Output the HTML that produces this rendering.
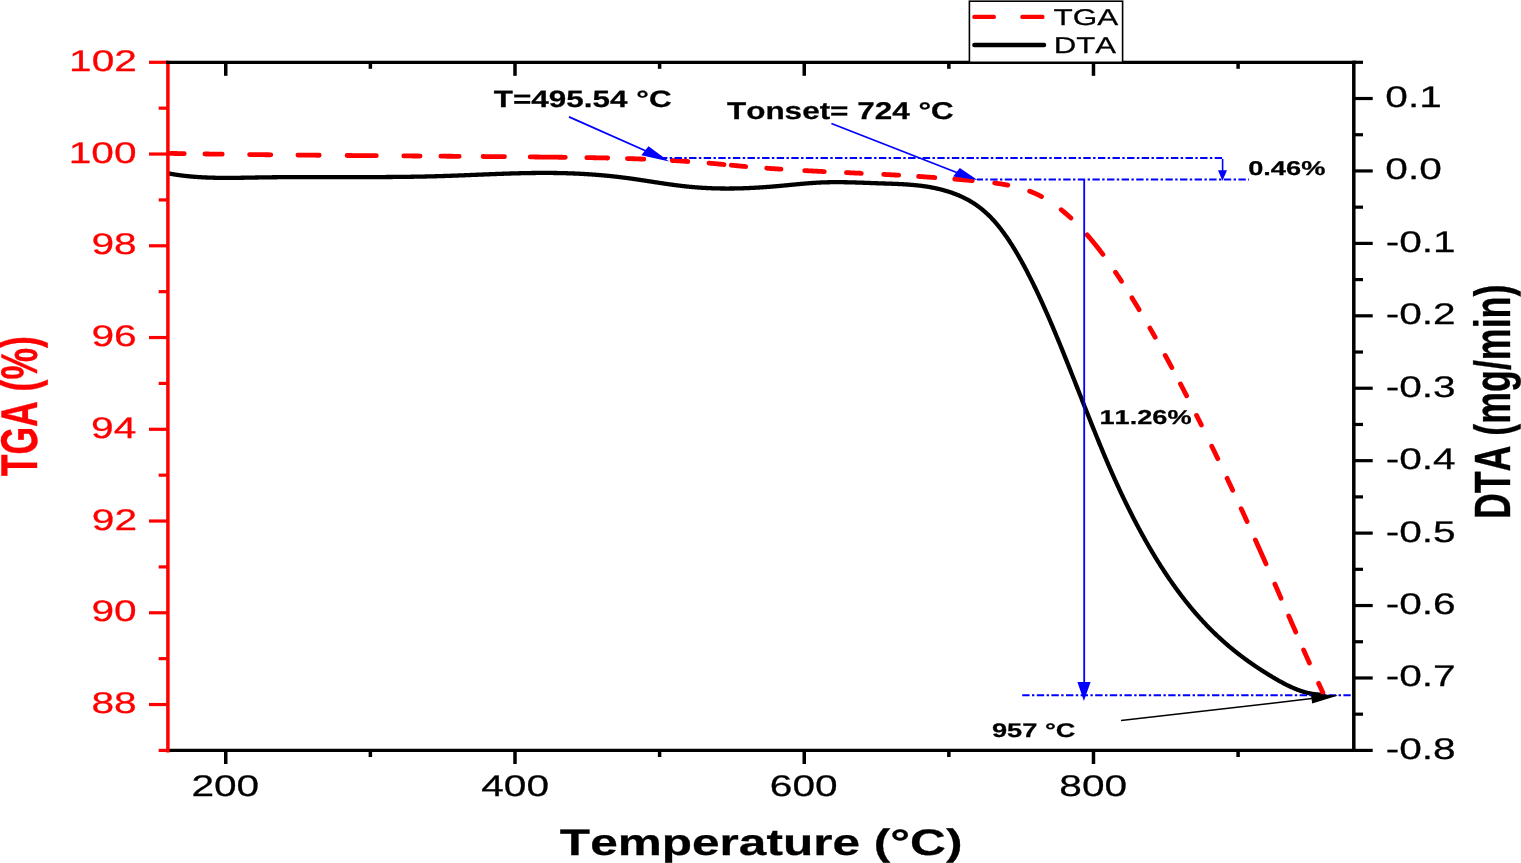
<!DOCTYPE html>
<html><head><meta charset="utf-8"><title>TGA / DTA</title>
<style>html,body{margin:0;padding:0;background:#fff;width:1521px;height:863px;overflow:hidden}svg{display:block}</style>
</head><body>
<svg width="1521" height="863" viewBox="0 0 1521 863" font-family="Liberation Sans, Arial, sans-serif" style="font-kerning:none;text-rendering:geometricPrecision">
<rect width="1521" height="863" fill="#fff"/>
<path d="M168.00 173.35 L168.50 173.45 L169.00 173.54 L169.50 173.63 L170.00 173.72 L170.50 173.81 L171.00 173.89 L171.50 173.98 L172.00 174.06 L172.50 174.15 L173.00 174.23 L173.50 174.31 L174.00 174.39 L174.50 174.47 L175.00 174.55 L175.50 174.63 L176.00 174.70 L176.50 174.78 L177.00 174.85 L177.50 174.92 L178.00 174.99 L178.50 175.06 L179.00 175.13 L179.50 175.20 L180.00 175.27 L180.50 175.33 L181.00 175.40 L181.50 175.46 L182.00 175.52 L182.50 175.59 L183.00 175.65 L183.50 175.71 L184.00 175.77 L184.50 175.82 L185.00 175.88 L185.50 175.94 L186.00 175.99 L186.50 176.05 L187.00 176.10 L187.50 176.15 L188.00 176.20 L188.50 176.25 L189.00 176.30 L189.50 176.35 L190.00 176.40 L190.50 176.44 L191.00 176.49 L191.50 176.53 L192.00 176.58 L192.50 176.62 L193.00 176.66 L193.50 176.70 L194.00 176.74 L194.50 176.78 L195.00 176.82 L195.50 176.86 L196.00 176.90 L196.50 176.93 L197.00 176.97 L197.50 177.00 L198.00 177.04 L198.50 177.07 L199.00 177.10 L199.50 177.13 L200.00 177.16 L200.50 177.19 L201.00 177.22 L201.50 177.25 L202.00 177.28 L202.50 177.31 L203.00 177.33 L203.50 177.36 L204.00 177.38 L204.50 177.41 L205.00 177.43 L205.50 177.45 L206.00 177.48 L206.50 177.50 L207.00 177.52 L207.50 177.54 L208.00 177.56 L208.50 177.58 L209.00 177.60 L209.50 177.61 L210.00 177.63 L210.50 177.65 L211.00 177.66 L211.50 177.68 L212.00 177.69 L212.50 177.71 L213.00 177.72 L213.50 177.73 L214.00 177.74 L214.50 177.76 L215.00 177.77 L215.50 177.78 L216.00 177.79 L216.50 177.80 L217.00 177.81 L217.50 177.82 L218.00 177.82 L218.50 177.83 L219.00 177.84 L219.50 177.84 L220.00 177.85 L220.50 177.86 L221.00 177.86 L221.50 177.87 L222.00 177.87 L222.50 177.87 L223.00 177.88 L223.50 177.88 L224.00 177.88 L224.50 177.89 L225.00 177.89 L225.50 177.89 L226.00 177.89 L226.50 177.89 L227.00 177.89 L227.50 177.89 L228.00 177.89 L228.50 177.89 L229.00 177.89 L229.50 177.89 L230.00 177.88 L230.50 177.88 L231.00 177.88 L231.50 177.88 L232.00 177.87 L232.50 177.87 L233.00 177.87 L233.50 177.86 L234.00 177.86 L234.50 177.85 L235.00 177.85 L235.50 177.84 L236.00 177.84 L236.50 177.83 L237.00 177.83 L237.50 177.82 L238.00 177.82 L238.50 177.81 L239.00 177.80 L239.50 177.80 L240.00 177.79 L240.50 177.78 L241.00 177.77 L241.50 177.77 L242.00 177.76 L242.50 177.75 L243.00 177.74 L243.50 177.74 L244.00 177.73 L244.50 177.72 L245.00 177.71 L245.50 177.70 L246.00 177.69 L246.50 177.69 L247.00 177.68 L247.50 177.67 L248.00 177.66 L248.50 177.65 L249.00 177.64 L249.50 177.63 L250.00 177.62 L250.50 177.61 L251.00 177.61 L251.50 177.60 L252.00 177.59 L252.50 177.58 L253.00 177.57 L253.50 177.56 L254.00 177.55 L254.50 177.54 L255.00 177.53 L255.50 177.52 L256.00 177.51 L256.50 177.51 L257.00 177.50 L257.50 177.49 L258.00 177.48 L258.50 177.47 L259.00 177.46 L259.50 177.45 L260.00 177.45 L260.50 177.44 L261.00 177.43 L261.50 177.42 L262.00 177.41 L262.50 177.41 L263.00 177.40 L263.50 177.39 L264.00 177.38 L264.50 177.38 L265.00 177.37 L265.50 177.36 L266.00 177.36 L266.50 177.35 L267.00 177.34 L267.50 177.33 L268.00 177.33 L268.50 177.32 L269.00 177.32 L269.50 177.31 L270.00 177.30 L270.50 177.30 L271.00 177.29 L271.50 177.29 L272.00 177.28 L272.50 177.27 L273.00 177.27 L273.50 177.26 L274.00 177.26 L274.50 177.25 L275.00 177.25 L275.50 177.24 L276.00 177.24 L276.50 177.23 L277.00 177.23 L277.50 177.22 L278.00 177.22 L278.50 177.21 L279.00 177.21 L279.50 177.20 L280.00 177.20 L280.50 177.20 L281.00 177.19 L281.50 177.19 L282.00 177.18 L282.50 177.18 L283.00 177.18 L283.50 177.17 L284.00 177.17 L284.50 177.16 L285.00 177.16 L285.50 177.16 L286.00 177.15 L286.50 177.15 L287.00 177.15 L287.50 177.14 L288.00 177.14 L288.50 177.14 L289.00 177.14 L289.50 177.13 L290.00 177.13 L290.50 177.13 L291.00 177.13 L291.50 177.12 L292.00 177.12 L292.50 177.12 L293.00 177.12 L293.50 177.11 L294.00 177.11 L294.50 177.11 L295.00 177.11 L295.50 177.10 L296.00 177.10 L296.50 177.10 L297.00 177.10 L297.50 177.10 L298.00 177.10 L298.50 177.09 L299.00 177.09 L299.50 177.09 L300.00 177.09 L300.50 177.09 L301.00 177.09 L301.50 177.08 L302.00 177.08 L302.50 177.08 L303.00 177.08 L303.50 177.08 L304.00 177.08 L304.50 177.08 L305.00 177.08 L305.50 177.08 L306.00 177.07 L306.50 177.07 L307.00 177.07 L307.50 177.07 L308.00 177.07 L308.50 177.07 L309.00 177.07 L309.50 177.07 L310.00 177.07 L310.50 177.07 L311.00 177.07 L311.50 177.07 L312.00 177.07 L312.50 177.07 L313.00 177.07 L313.50 177.07 L314.00 177.07 L314.50 177.07 L315.00 177.07 L315.50 177.07 L316.00 177.07 L316.50 177.07 L317.00 177.07 L317.50 177.07 L318.00 177.07 L318.50 177.07 L319.00 177.07 L319.50 177.07 L320.00 177.07 L320.50 177.07 L321.00 177.07 L321.50 177.07 L322.00 177.07 L322.50 177.07 L323.00 177.07 L323.50 177.07 L324.00 177.07 L324.50 177.07 L325.00 177.07 L325.50 177.07 L326.00 177.07 L326.50 177.07 L327.00 177.07 L327.50 177.07 L328.00 177.07 L328.50 177.07 L329.00 177.07 L329.50 177.07 L330.00 177.07 L330.50 177.07 L331.00 177.07 L331.50 177.07 L332.00 177.07 L332.50 177.08 L333.00 177.08 L333.50 177.08 L334.00 177.08 L334.50 177.08 L335.00 177.08 L335.50 177.08 L336.00 177.08 L336.50 177.08 L337.00 177.08 L337.50 177.08 L338.00 177.08 L338.50 177.08 L339.00 177.08 L339.50 177.08 L340.00 177.08 L340.50 177.08 L341.00 177.09 L341.50 177.09 L342.00 177.09 L342.50 177.09 L343.00 177.09 L343.50 177.09 L344.00 177.09 L344.50 177.09 L345.00 177.09 L345.50 177.09 L346.00 177.09 L346.50 177.09 L347.00 177.09 L347.50 177.09 L348.00 177.09 L348.50 177.09 L349.00 177.09 L349.50 177.09 L350.00 177.09 L350.50 177.09 L351.00 177.09 L351.50 177.09 L352.00 177.09 L352.50 177.09 L353.00 177.10 L353.50 177.10 L354.00 177.10 L354.50 177.10 L355.00 177.10 L355.50 177.10 L356.00 177.10 L356.50 177.10 L357.00 177.10 L357.50 177.10 L358.00 177.10 L358.50 177.10 L359.00 177.10 L359.50 177.10 L360.00 177.10 L360.50 177.10 L361.00 177.10 L361.50 177.09 L362.00 177.09 L362.50 177.09 L363.00 177.09 L363.50 177.09 L364.00 177.09 L364.50 177.09 L365.00 177.09 L365.50 177.09 L366.00 177.09 L366.50 177.09 L367.00 177.09 L367.50 177.09 L368.00 177.09 L368.50 177.09 L369.00 177.09 L369.50 177.09 L370.00 177.08 L370.50 177.08 L371.00 177.08 L371.50 177.08 L372.00 177.08 L372.50 177.08 L373.00 177.08 L373.50 177.08 L374.00 177.07 L374.50 177.07 L375.00 177.07 L375.50 177.07 L376.00 177.07 L376.50 177.07 L377.00 177.07 L377.50 177.06 L378.00 177.06 L378.50 177.06 L379.00 177.06 L379.50 177.06 L380.00 177.05 L380.50 177.05 L381.00 177.05 L381.50 177.05 L382.00 177.04 L382.50 177.04 L383.00 177.04 L383.50 177.04 L384.00 177.03 L384.50 177.03 L385.00 177.03 L385.50 177.03 L386.00 177.02 L386.50 177.02 L387.00 177.02 L387.50 177.01 L388.00 177.01 L388.50 177.01 L389.00 177.00 L389.50 177.00 L390.00 177.00 L390.50 176.99 L391.00 176.99 L391.50 176.99 L392.00 176.98 L392.50 176.98 L393.00 176.97 L393.50 176.97 L394.00 176.97 L394.50 176.96 L395.00 176.96 L395.50 176.95 L396.00 176.95 L396.50 176.94 L397.00 176.94 L397.50 176.94 L398.00 176.93 L398.50 176.93 L399.00 176.92 L399.50 176.92 L400.00 176.91 L400.50 176.91 L401.00 176.90 L401.50 176.89 L402.00 176.89 L402.50 176.88 L403.00 176.88 L403.50 176.87 L404.00 176.87 L404.50 176.86 L405.00 176.85 L405.50 176.85 L406.00 176.84 L406.50 176.83 L407.00 176.83 L407.50 176.82 L408.00 176.81 L408.50 176.81 L409.00 176.80 L409.50 176.79 L410.00 176.79 L410.50 176.78 L411.00 176.77 L411.50 176.76 L412.00 176.76 L412.50 176.75 L413.00 176.74 L413.50 176.73 L414.00 176.72 L414.50 176.72 L415.00 176.71 L415.50 176.70 L416.00 176.69 L416.50 176.68 L417.00 176.67 L417.50 176.67 L418.00 176.66 L418.50 176.65 L419.00 176.64 L419.50 176.63 L420.00 176.62 L420.50 176.61 L421.00 176.60 L421.50 176.59 L422.00 176.58 L422.50 176.57 L423.00 176.56 L423.50 176.55 L424.00 176.54 L424.50 176.53 L425.00 176.52 L425.50 176.51 L426.00 176.50 L426.50 176.48 L427.00 176.47 L427.50 176.46 L428.00 176.45 L428.50 176.44 L429.00 176.43 L429.50 176.42 L430.00 176.40 L430.50 176.39 L431.00 176.38 L431.50 176.37 L432.00 176.35 L432.50 176.34 L433.00 176.33 L433.50 176.31 L434.00 176.30 L434.50 176.29 L435.00 176.27 L435.50 176.26 L436.00 176.25 L436.50 176.23 L437.00 176.22 L437.50 176.21 L438.00 176.19 L438.50 176.18 L439.00 176.16 L439.50 176.15 L440.00 176.13 L440.50 176.12 L441.00 176.10 L441.50 176.09 L442.00 176.07 L442.50 176.06 L443.00 176.04 L443.50 176.02 L444.00 176.01 L444.50 175.99 L445.00 175.97 L445.50 175.96 L446.00 175.94 L446.50 175.93 L447.00 175.91 L447.50 175.89 L448.00 175.87 L448.50 175.86 L449.00 175.84 L449.50 175.82 L450.00 175.80 L450.50 175.79 L451.00 175.77 L451.50 175.75 L452.00 175.73 L452.50 175.72 L453.00 175.70 L453.50 175.68 L454.00 175.66 L454.50 175.64 L455.00 175.62 L455.50 175.60 L456.00 175.59 L456.50 175.57 L457.00 175.55 L457.50 175.53 L458.00 175.51 L458.50 175.49 L459.00 175.47 L459.50 175.45 L460.00 175.43 L460.50 175.41 L461.00 175.39 L461.50 175.37 L462.00 175.36 L462.50 175.34 L463.00 175.32 L463.50 175.30 L464.00 175.28 L464.50 175.26 L465.00 175.24 L465.50 175.22 L466.00 175.20 L466.50 175.18 L467.00 175.16 L467.50 175.14 L468.00 175.12 L468.50 175.10 L469.00 175.08 L469.50 175.06 L470.00 175.04 L470.50 175.02 L471.00 174.99 L471.50 174.97 L472.00 174.95 L472.50 174.93 L473.00 174.91 L473.50 174.89 L474.00 174.87 L474.50 174.85 L475.00 174.83 L475.50 174.81 L476.00 174.79 L476.50 174.77 L477.00 174.75 L477.50 174.73 L478.00 174.71 L478.50 174.69 L479.00 174.67 L479.50 174.65 L480.00 174.63 L480.50 174.61 L481.00 174.59 L481.50 174.57 L482.00 174.55 L482.50 174.53 L483.00 174.51 L483.50 174.49 L484.00 174.47 L484.50 174.45 L485.00 174.43 L485.50 174.41 L486.00 174.39 L486.50 174.37 L487.00 174.35 L487.50 174.33 L488.00 174.31 L488.50 174.29 L489.00 174.27 L489.50 174.25 L490.00 174.23 L490.50 174.21 L491.00 174.19 L491.50 174.17 L492.00 174.15 L492.50 174.13 L493.00 174.11 L493.50 174.09 L494.00 174.07 L494.50 174.06 L495.00 174.04 L495.50 174.02 L496.00 174.00 L496.50 173.98 L497.00 173.96 L497.50 173.94 L498.00 173.93 L498.50 173.91 L499.00 173.89 L499.50 173.87 L500.00 173.85 L500.50 173.84 L501.00 173.82 L501.50 173.80 L502.00 173.78 L502.50 173.77 L503.00 173.75 L503.50 173.73 L504.00 173.71 L504.50 173.70 L505.00 173.68 L505.50 173.66 L506.00 173.65 L506.50 173.63 L507.00 173.61 L507.50 173.60 L508.00 173.58 L508.50 173.57 L509.00 173.55 L509.50 173.54 L510.00 173.52 L510.50 173.50 L511.00 173.49 L511.50 173.47 L512.00 173.46 L512.50 173.45 L513.00 173.43 L513.50 173.42 L514.00 173.40 L514.50 173.39 L515.00 173.37 L515.50 173.36 L516.00 173.35 L516.50 173.33 L517.00 173.32 L517.50 173.31 L518.00 173.29 L518.50 173.28 L519.00 173.27 L519.50 173.26 L520.00 173.25 L520.50 173.23 L521.00 173.22 L521.50 173.21 L522.00 173.20 L522.50 173.19 L523.00 173.18 L523.50 173.17 L524.00 173.16 L524.50 173.15 L525.00 173.14 L525.50 173.13 L526.00 173.12 L526.50 173.11 L527.00 173.10 L527.50 173.09 L528.00 173.08 L528.50 173.07 L529.00 173.06 L529.50 173.05 L530.00 173.05 L530.50 173.04 L531.00 173.03 L531.50 173.02 L532.00 173.02 L532.50 173.01 L533.00 173.00 L533.50 173.00 L534.00 172.99 L534.50 172.99 L535.00 172.98 L535.50 172.98 L536.00 172.97 L536.50 172.97 L537.00 172.96 L537.50 172.96 L538.00 172.95 L538.50 172.95 L539.00 172.95 L539.50 172.94 L540.00 172.94 L540.50 172.94 L541.00 172.94 L541.50 172.93 L542.00 172.93 L542.50 172.93 L543.00 172.93 L543.50 172.93 L544.00 172.93 L544.50 172.93 L545.00 172.93 L545.50 172.93 L546.00 172.93 L546.50 172.93 L547.00 172.93 L547.50 172.93 L548.00 172.93 L548.50 172.94 L549.00 172.94 L549.50 172.94 L550.00 172.94 L550.50 172.95 L551.00 172.95 L551.50 172.96 L552.00 172.96 L552.50 172.96 L553.00 172.97 L553.50 172.98 L554.00 172.98 L554.50 172.99 L555.00 172.99 L555.50 173.00 L556.00 173.01 L556.50 173.01 L557.00 173.02 L557.50 173.03 L558.00 173.04 L558.50 173.05 L559.00 173.06 L559.50 173.07 L560.00 173.08 L560.50 173.09 L561.00 173.10 L561.50 173.11 L562.00 173.12 L562.50 173.13 L563.00 173.14 L563.50 173.15 L564.00 173.17 L564.50 173.18 L565.00 173.19 L565.50 173.21 L566.00 173.22 L566.50 173.24 L567.00 173.25 L567.50 173.27 L568.00 173.28 L568.50 173.30 L569.00 173.32 L569.50 173.33 L570.00 173.35 L570.50 173.37 L571.00 173.38 L571.50 173.40 L572.00 173.42 L572.50 173.44 L573.00 173.46 L573.50 173.48 L574.00 173.50 L574.50 173.52 L575.00 173.54 L575.50 173.56 L576.00 173.59 L576.50 173.61 L577.00 173.63 L577.50 173.65 L578.00 173.68 L578.50 173.70 L579.00 173.72 L579.50 173.75 L580.00 173.77 L580.50 173.80 L581.00 173.83 L581.50 173.85 L582.00 173.88 L582.50 173.91 L583.00 173.93 L583.50 173.96 L584.00 173.99 L584.50 174.02 L585.00 174.05 L585.50 174.08 L586.00 174.11 L586.50 174.14 L587.00 174.17 L587.50 174.20 L588.00 174.23 L588.50 174.26 L589.00 174.29 L589.50 174.33 L590.00 174.36 L590.50 174.39 L591.00 174.43 L591.50 174.46 L592.00 174.49 L592.50 174.53 L593.00 174.57 L593.50 174.60 L594.00 174.64 L594.50 174.68 L595.00 174.71 L595.50 174.75 L596.00 174.79 L596.50 174.83 L597.00 174.87 L597.50 174.91 L598.00 174.95 L598.50 174.99 L599.00 175.03 L599.50 175.07 L600.00 175.11 L600.50 175.15 L601.00 175.19 L601.50 175.24 L602.00 175.28 L602.50 175.32 L603.00 175.37 L603.50 175.41 L604.00 175.46 L604.50 175.50 L605.00 175.55 L605.50 175.60 L606.00 175.64 L606.50 175.69 L607.00 175.74 L607.50 175.79 L608.00 175.83 L608.50 175.88 L609.00 175.93 L609.50 175.98 L610.00 176.03 L610.50 176.08 L611.00 176.14 L611.50 176.19 L612.00 176.24 L612.50 176.29 L613.00 176.35 L613.50 176.40 L614.00 176.45 L614.50 176.51 L615.00 176.56 L615.50 176.62 L616.00 176.68 L616.50 176.73 L617.00 176.79 L617.50 176.85 L618.00 176.90 L618.50 176.96 L619.00 177.02 L619.50 177.08 L620.00 177.14 L620.50 177.20 L621.00 177.26 L621.50 177.32 L622.00 177.38 L622.50 177.45 L623.00 177.51 L623.50 177.57 L624.00 177.64 L624.50 177.70 L625.00 177.76 L625.50 177.83 L626.00 177.89 L626.50 177.96 L627.00 178.03 L627.50 178.09 L628.00 178.16 L628.50 178.23 L629.00 178.30 L629.50 178.37 L630.00 178.43 L630.50 178.50 L631.00 178.57 L631.50 178.64 L632.00 178.71 L632.50 178.78 L633.00 178.86 L633.50 178.93 L634.00 179.00 L634.50 179.07 L635.00 179.14 L635.50 179.22 L636.00 179.29 L636.50 179.36 L637.00 179.44 L637.50 179.51 L638.00 179.58 L638.50 179.66 L639.00 179.73 L639.50 179.81 L640.00 179.88 L640.50 179.96 L641.00 180.03 L641.50 180.11 L642.00 180.18 L642.50 180.26 L643.00 180.34 L643.50 180.41 L644.00 180.49 L644.50 180.56 L645.00 180.64 L645.50 180.72 L646.00 180.79 L646.50 180.87 L647.00 180.95 L647.50 181.02 L648.00 181.10 L648.50 181.18 L649.00 181.26 L649.50 181.33 L650.00 181.41 L650.50 181.49 L651.00 181.56 L651.50 181.64 L652.00 181.72 L652.50 181.80 L653.00 181.87 L653.50 181.95 L654.00 182.03 L654.50 182.10 L655.00 182.18 L655.50 182.26 L656.00 182.33 L656.50 182.41 L657.00 182.49 L657.50 182.56 L658.00 182.64 L658.50 182.72 L659.00 182.79 L659.50 182.87 L660.00 182.94 L660.50 183.02 L661.00 183.09 L661.50 183.17 L662.00 183.24 L662.50 183.32 L663.00 183.39 L663.50 183.47 L664.00 183.54 L664.50 183.61 L665.00 183.69 L665.50 183.76 L666.00 183.83 L666.50 183.91 L667.00 183.98 L667.50 184.05 L668.00 184.12 L668.50 184.19 L669.00 184.27 L669.50 184.34 L670.00 184.41 L670.50 184.48 L671.00 184.55 L671.50 184.61 L672.00 184.68 L672.50 184.75 L673.00 184.82 L673.50 184.89 L674.00 184.96 L674.50 185.02 L675.00 185.09 L675.50 185.15 L676.00 185.22 L676.50 185.28 L677.00 185.35 L677.50 185.41 L678.00 185.48 L678.50 185.54 L679.00 185.60 L679.50 185.66 L680.00 185.72 L680.50 185.79 L681.00 185.85 L681.50 185.90 L682.00 185.96 L682.50 186.02 L683.00 186.08 L683.50 186.14 L684.00 186.19 L684.50 186.25 L685.00 186.31 L685.50 186.36 L686.00 186.41 L686.50 186.47 L687.00 186.52 L687.50 186.57 L688.00 186.62 L688.50 186.67 L689.00 186.72 L689.50 186.77 L690.00 186.82 L690.50 186.87 L691.00 186.92 L691.50 186.96 L692.00 187.01 L692.50 187.05 L693.00 187.10 L693.50 187.14 L694.00 187.18 L694.50 187.23 L695.00 187.27 L695.50 187.31 L696.00 187.35 L696.50 187.39 L697.00 187.43 L697.50 187.46 L698.00 187.50 L698.50 187.54 L699.00 187.57 L699.50 187.61 L700.00 187.64 L700.50 187.67 L701.00 187.71 L701.50 187.74 L702.00 187.77 L702.50 187.80 L703.00 187.83 L703.50 187.86 L704.00 187.89 L704.50 187.92 L705.00 187.95 L705.50 187.97 L706.00 188.00 L706.50 188.02 L707.00 188.05 L707.50 188.07 L708.00 188.10 L708.50 188.12 L709.00 188.14 L709.50 188.16 L710.00 188.18 L710.50 188.20 L711.00 188.22 L711.50 188.24 L712.00 188.26 L712.50 188.28 L713.00 188.30 L713.50 188.31 L714.00 188.33 L714.50 188.34 L715.00 188.36 L715.50 188.37 L716.00 188.39 L716.50 188.40 L717.00 188.41 L717.50 188.42 L718.00 188.43 L718.50 188.44 L719.00 188.45 L719.50 188.46 L720.00 188.47 L720.50 188.48 L721.00 188.49 L721.50 188.49 L722.00 188.50 L722.50 188.51 L723.00 188.51 L723.50 188.51 L724.00 188.52 L724.50 188.52 L725.00 188.52 L725.50 188.53 L726.00 188.53 L726.50 188.53 L727.00 188.53 L727.50 188.53 L728.00 188.53 L728.50 188.53 L729.00 188.53 L729.50 188.52 L730.00 188.52 L730.50 188.52 L731.00 188.51 L731.50 188.51 L732.00 188.50 L732.50 188.50 L733.00 188.49 L733.50 188.49 L734.00 188.48 L734.50 188.47 L735.00 188.46 L735.50 188.46 L736.00 188.45 L736.50 188.44 L737.00 188.43 L737.50 188.42 L738.00 188.40 L738.50 188.39 L739.00 188.38 L739.50 188.37 L740.00 188.35 L740.50 188.34 L741.00 188.33 L741.50 188.31 L742.00 188.30 L742.50 188.28 L743.00 188.26 L743.50 188.25 L744.00 188.23 L744.50 188.21 L745.00 188.20 L745.50 188.18 L746.00 188.16 L746.50 188.14 L747.00 188.12 L747.50 188.10 L748.00 188.08 L748.50 188.06 L749.00 188.03 L749.50 188.01 L750.00 187.99 L750.50 187.97 L751.00 187.94 L751.50 187.92 L752.00 187.89 L752.50 187.87 L753.00 187.84 L753.50 187.82 L754.00 187.79 L754.50 187.77 L755.00 187.74 L755.50 187.71 L756.00 187.68 L756.50 187.65 L757.00 187.63 L757.50 187.60 L758.00 187.57 L758.50 187.54 L759.00 187.51 L759.50 187.48 L760.00 187.45 L760.50 187.41 L761.00 187.38 L761.50 187.35 L762.00 187.32 L762.50 187.28 L763.00 187.25 L763.50 187.22 L764.00 187.18 L764.50 187.15 L765.00 187.11 L765.50 187.08 L766.00 187.04 L766.50 187.01 L767.00 186.97 L767.50 186.93 L768.00 186.89 L768.50 186.86 L769.00 186.82 L769.50 186.78 L770.00 186.74 L770.50 186.70 L771.00 186.66 L771.50 186.62 L772.00 186.58 L772.50 186.54 L773.00 186.50 L773.50 186.46 L774.00 186.42 L774.50 186.38 L775.00 186.34 L775.50 186.30 L776.00 186.25 L776.50 186.21 L777.00 186.17 L777.50 186.12 L778.00 186.08 L778.50 186.03 L779.00 185.99 L779.50 185.95 L780.00 185.90 L780.50 185.85 L781.00 185.81 L781.50 185.76 L782.00 185.72 L782.50 185.67 L783.00 185.62 L783.50 185.58 L784.00 185.53 L784.50 185.48 L785.00 185.43 L785.50 185.39 L786.00 185.34 L786.50 185.29 L787.00 185.24 L787.50 185.19 L788.00 185.15 L788.50 185.10 L789.00 185.05 L789.50 185.00 L790.00 184.95 L790.50 184.90 L791.00 184.86 L791.50 184.81 L792.00 184.76 L792.50 184.71 L793.00 184.66 L793.50 184.61 L794.00 184.57 L794.50 184.52 L795.00 184.47 L795.50 184.42 L796.00 184.37 L796.50 184.33 L797.00 184.28 L797.50 184.23 L798.00 184.19 L798.50 184.14 L799.00 184.09 L799.50 184.05 L800.00 184.00 L800.50 183.95 L801.00 183.91 L801.50 183.86 L802.00 183.82 L802.50 183.77 L803.00 183.73 L803.50 183.69 L804.00 183.64 L804.50 183.60 L805.00 183.56 L805.50 183.52 L806.00 183.47 L806.50 183.43 L807.00 183.39 L807.50 183.35 L808.00 183.31 L808.50 183.27 L809.00 183.23 L809.50 183.19 L810.00 183.16 L810.50 183.12 L811.00 183.08 L811.50 183.05 L812.00 183.01 L812.50 182.98 L813.00 182.94 L813.50 182.91 L814.00 182.87 L814.50 182.84 L815.00 182.81 L815.50 182.78 L816.00 182.75 L816.50 182.72 L817.00 182.69 L817.50 182.66 L818.00 182.64 L818.50 182.61 L819.00 182.58 L819.50 182.56 L820.00 182.54 L820.50 182.51 L821.00 182.49 L821.50 182.47 L822.00 182.45 L822.50 182.43 L823.00 182.41 L823.50 182.39 L824.00 182.37 L824.50 182.36 L825.00 182.34 L825.50 182.33 L826.00 182.31 L826.50 182.30 L827.00 182.28 L827.50 182.27 L828.00 182.26 L828.50 182.25 L829.00 182.24 L829.50 182.23 L830.00 182.22 L830.50 182.21 L831.00 182.21 L831.50 182.20 L832.00 182.19 L832.50 182.19 L833.00 182.18 L833.50 182.18 L834.00 182.18 L834.50 182.17 L835.00 182.17 L835.50 182.17 L836.00 182.17 L836.50 182.17 L837.00 182.17 L837.50 182.17 L838.00 182.17 L838.50 182.17 L839.00 182.17 L839.50 182.17 L840.00 182.18 L840.50 182.18 L841.00 182.19 L841.50 182.19 L842.00 182.20 L842.50 182.20 L843.00 182.21 L843.50 182.21 L844.00 182.22 L844.50 182.23 L845.00 182.24 L845.50 182.24 L846.00 182.25 L846.50 182.26 L847.00 182.27 L847.50 182.28 L848.00 182.29 L848.50 182.30 L849.00 182.31 L849.50 182.33 L850.00 182.34 L850.50 182.35 L851.00 182.36 L851.50 182.37 L852.00 182.39 L852.50 182.40 L853.00 182.41 L853.50 182.43 L854.00 182.44 L854.50 182.46 L855.00 182.47 L855.50 182.49 L856.00 182.50 L856.50 182.52 L857.00 182.53 L857.50 182.55 L858.00 182.56 L858.50 182.58 L859.00 182.60 L859.50 182.61 L860.00 182.63 L860.50 182.65 L861.00 182.67 L861.50 182.68 L862.00 182.70 L862.50 182.72 L863.00 182.74 L863.50 182.75 L864.00 182.77 L864.50 182.79 L865.00 182.81 L865.50 182.83 L866.00 182.84 L866.50 182.86 L867.00 182.88 L867.50 182.90 L868.00 182.92 L868.50 182.94 L869.00 182.96 L869.50 182.97 L870.00 182.99 L870.50 183.01 L871.00 183.03 L871.50 183.05 L872.00 183.07 L872.50 183.09 L873.00 183.10 L873.50 183.12 L874.00 183.14 L874.50 183.16 L875.00 183.18 L875.50 183.20 L876.00 183.21 L876.50 183.23 L877.00 183.25 L877.50 183.27 L878.00 183.29 L878.50 183.30 L879.00 183.32 L879.50 183.34 L880.00 183.36 L880.50 183.37 L881.00 183.39 L881.50 183.41 L882.00 183.42 L882.50 183.44 L883.00 183.45 L883.50 183.47 L884.00 183.49 L884.50 183.50 L885.00 183.52 L885.50 183.54 L886.00 183.55 L886.50 183.57 L887.00 183.58 L887.50 183.60 L888.00 183.62 L888.50 183.63 L889.00 183.65 L889.50 183.67 L890.00 183.69 L890.50 183.70 L891.00 183.72 L891.50 183.74 L892.00 183.76 L892.50 183.77 L893.00 183.79 L893.50 183.81 L894.00 183.83 L894.50 183.85 L895.00 183.87 L895.50 183.89 L896.00 183.91 L896.50 183.93 L897.00 183.95 L897.50 183.97 L898.00 184.00 L898.50 184.02 L899.00 184.04 L899.50 184.06 L900.00 184.09 L900.50 184.11 L901.00 184.14 L901.50 184.16 L902.00 184.19 L902.50 184.22 L903.00 184.25 L903.50 184.27 L904.00 184.30 L904.50 184.33 L905.00 184.36 L905.50 184.39 L906.00 184.42 L906.50 184.46 L907.00 184.49 L907.50 184.52 L908.00 184.56 L908.50 184.60 L909.00 184.63 L909.50 184.67 L910.00 184.71 L910.50 184.75 L911.00 184.79 L911.50 184.83 L912.00 184.87 L912.50 184.91 L913.00 184.96 L913.50 185.00 L914.00 185.05 L914.50 185.09 L915.00 185.14 L915.50 185.19 L916.00 185.24 L916.50 185.29 L917.00 185.34 L917.50 185.40 L918.00 185.45 L918.50 185.51 L919.00 185.56 L919.50 185.62 L920.00 185.68 L920.50 185.74 L921.00 185.80 L921.50 185.87 L922.00 185.93 L922.50 186.00 L923.00 186.06 L923.50 186.13 L924.00 186.20 L924.50 186.27 L925.00 186.35 L925.50 186.42 L926.00 186.49 L926.50 186.57 L927.00 186.65 L927.50 186.73 L928.00 186.81 L928.50 186.89 L929.00 186.98 L929.50 187.06 L930.00 187.15 L930.50 187.24 L931.00 187.33 L931.50 187.42 L932.00 187.52 L932.50 187.61 L933.00 187.71 L933.50 187.81 L934.00 187.91 L934.50 188.01 L935.00 188.12 L935.50 188.22 L936.00 188.33 L936.50 188.44 L937.00 188.55 L937.50 188.67 L938.00 188.78 L938.50 188.90 L939.00 189.02 L939.50 189.14 L940.00 189.26 L940.50 189.38 L941.00 189.51 L941.50 189.64 L942.00 189.77 L942.50 189.90 L943.00 190.04 L943.50 190.17 L944.00 190.31 L944.50 190.45 L945.00 190.60 L945.50 190.74 L946.00 190.89 L946.50 191.04 L947.00 191.19 L947.50 191.34 L948.00 191.50 L948.50 191.66 L949.00 191.82 L949.50 191.98 L950.00 192.15 L950.50 192.31 L951.00 192.48 L951.50 192.65 L952.00 192.83 L952.50 193.01 L953.00 193.18 L953.50 193.37 L954.00 193.55 L954.50 193.74 L955.00 193.93 L955.50 194.12 L956.00 194.31 L956.50 194.51 L957.00 194.71 L957.50 194.91 L958.00 195.11 L958.50 195.32 L959.00 195.53 L959.50 195.75 L960.00 195.96 L960.50 196.18 L961.00 196.41 L961.50 196.63 L962.00 196.86 L962.50 197.09 L963.00 197.33 L963.50 197.57 L964.00 197.81 L964.50 198.06 L965.00 198.31 L965.50 198.56 L966.00 198.82 L966.50 199.08 L967.00 199.35 L967.50 199.62 L968.00 199.89 L968.50 200.16 L969.00 200.45 L969.50 200.73 L970.00 201.02 L970.50 201.31 L971.00 201.61 L971.50 201.91 L972.00 202.22 L972.50 202.53 L973.00 202.84 L973.50 203.16 L974.00 203.49 L974.50 203.82 L975.00 204.15 L975.50 204.49 L976.00 204.83 L976.50 205.18 L977.00 205.53 L977.50 205.89 L978.00 206.25 L978.50 206.62 L979.00 206.99 L979.50 207.37 L980.00 207.75 L980.50 208.14 L981.00 208.53 L981.50 208.93 L982.00 209.34 L982.50 209.75 L983.00 210.16 L983.50 210.58 L984.00 211.01 L984.50 211.44 L985.00 211.88 L985.50 212.33 L986.00 212.78 L986.50 213.23 L987.00 213.70 L987.50 214.16 L988.00 214.64 L988.50 215.12 L989.00 215.60 L989.50 216.10 L990.00 216.60 L990.50 217.10 L991.00 217.61 L991.50 218.13 L992.00 218.66 L992.50 219.19 L993.00 219.73 L993.50 220.27 L994.00 220.82 L994.50 221.38 L995.00 221.95 L995.50 222.52 L996.00 223.10 L996.50 223.69 L997.00 224.28 L997.50 224.88 L998.00 225.49 L998.50 226.10 L999.00 226.72 L999.50 227.35 L1000.00 227.98 L1000.50 228.62 L1001.00 229.27 L1001.50 229.93 L1002.00 230.59 L1002.50 231.26 L1003.00 231.93 L1003.50 232.61 L1004.00 233.30 L1004.50 234.00 L1005.00 234.70 L1005.50 235.40 L1006.00 236.12 L1006.50 236.84 L1007.00 237.57 L1007.50 238.30 L1008.00 239.04 L1008.50 239.78 L1009.00 240.54 L1009.50 241.29 L1010.00 242.06 L1010.50 242.83 L1011.00 243.61 L1011.50 244.39 L1012.00 245.18 L1012.50 245.97 L1013.00 246.77 L1013.50 247.58 L1014.00 248.39 L1014.50 249.21 L1015.00 250.04 L1015.50 250.87 L1016.00 251.70 L1016.50 252.55 L1017.00 253.39 L1017.50 254.25 L1018.00 255.11 L1018.50 255.97 L1019.00 256.84 L1019.50 257.72 L1020.00 258.60 L1020.50 259.49 L1021.00 260.38 L1021.50 261.28 L1022.00 262.18 L1022.50 263.09 L1023.00 264.01 L1023.50 264.93 L1024.00 265.85 L1024.50 266.79 L1025.00 267.72 L1025.50 268.66 L1026.00 269.61 L1026.50 270.56 L1027.00 271.52 L1027.50 272.48 L1028.00 273.45 L1028.50 274.42 L1029.00 275.40 L1029.50 276.38 L1030.00 277.37 L1030.50 278.36 L1031.00 279.36 L1031.50 280.36 L1032.00 281.36 L1032.50 282.38 L1033.00 283.39 L1033.50 284.41 L1034.00 285.44 L1034.50 286.47 L1035.00 287.51 L1035.50 288.55 L1036.00 289.59 L1036.50 290.64 L1037.00 291.69 L1037.50 292.75 L1038.00 293.81 L1038.50 294.88 L1039.00 295.95 L1039.50 297.03 L1040.00 298.11 L1040.50 299.19 L1041.00 300.28 L1041.50 301.37 L1042.00 302.47 L1042.50 303.57 L1043.00 304.68 L1043.50 305.79 L1044.00 306.90 L1044.50 308.02 L1045.00 309.14 L1045.50 310.27 L1046.00 311.40 L1046.50 312.53 L1047.00 313.67 L1047.50 314.81 L1048.00 315.96 L1048.50 317.11 L1049.00 318.26 L1049.50 319.42 L1050.00 320.58 L1050.50 321.74 L1051.00 322.91 L1051.50 324.08 L1052.00 325.26 L1052.50 326.44 L1053.00 327.62 L1053.50 328.81 L1054.00 330.00 L1054.50 331.19 L1055.00 332.38 L1055.50 333.58 L1056.00 334.78 L1056.50 335.99 L1057.00 337.20 L1057.50 338.41 L1058.00 339.62 L1058.50 340.83 L1059.00 342.05 L1059.50 343.27 L1060.00 344.50 L1060.50 345.72 L1061.00 346.95 L1061.50 348.18 L1062.00 349.42 L1062.50 350.65 L1063.00 351.89 L1063.50 353.13 L1064.00 354.37 L1064.50 355.61 L1065.00 356.86 L1065.50 358.10 L1066.00 359.35 L1066.50 360.60 L1067.00 361.85 L1067.50 363.11 L1068.00 364.36 L1068.50 365.62 L1069.00 366.88 L1069.50 368.14 L1070.00 369.40 L1070.50 370.66 L1071.00 371.92 L1071.50 373.18 L1072.00 374.45 L1072.50 375.71 L1073.00 376.98 L1073.50 378.25 L1074.00 379.51 L1074.50 380.78 L1075.00 382.05 L1075.50 383.32 L1076.00 384.59 L1076.50 385.86 L1077.00 387.13 L1077.50 388.40 L1078.00 389.67 L1078.50 390.95 L1079.00 392.22 L1079.50 393.49 L1080.00 394.76 L1080.50 396.03 L1081.00 397.30 L1081.50 398.57 L1082.00 399.84 L1082.50 401.11 L1083.00 402.38 L1083.50 403.65 L1084.00 404.92 L1084.50 406.19 L1085.00 407.45 L1085.50 408.72 L1086.00 409.99 L1086.50 411.25 L1087.00 412.51 L1087.50 413.78 L1088.00 415.04 L1088.50 416.30 L1089.00 417.56 L1089.50 418.82 L1090.00 420.07 L1090.50 421.33 L1091.00 422.58 L1091.50 423.83 L1092.00 425.08 L1092.50 426.33 L1093.00 427.58 L1093.50 428.83 L1094.00 430.07 L1094.50 431.31 L1095.00 432.55 L1095.50 433.79 L1096.00 435.02 L1096.50 436.26 L1097.00 437.49 L1097.50 438.72 L1098.00 439.94 L1098.50 441.17 L1099.00 442.39 L1099.50 443.61 L1100.00 444.82 L1100.50 446.04 L1101.00 447.25 L1101.50 448.45 L1102.00 449.66 L1102.50 450.86 L1103.00 452.06 L1103.50 453.26 L1104.00 454.45 L1104.50 455.64 L1105.00 456.82 L1105.50 458.01 L1106.00 459.19 L1106.50 460.36 L1107.00 461.54 L1107.50 462.70 L1108.00 463.87 L1108.50 465.03 L1109.00 466.19 L1109.50 467.34 L1110.00 468.49 L1110.50 469.64 L1111.00 470.78 L1111.50 471.92 L1112.00 473.05 L1112.50 474.18 L1113.00 475.31 L1113.50 476.43 L1114.00 477.55 L1114.50 478.66 L1115.00 479.78 L1115.50 480.88 L1116.00 481.99 L1116.50 483.08 L1117.00 484.18 L1117.50 485.27 L1118.00 486.36 L1118.50 487.44 L1119.00 488.52 L1119.50 489.60 L1120.00 490.67 L1120.50 491.74 L1121.00 492.80 L1121.50 493.87 L1122.00 494.92 L1122.50 495.98 L1123.00 497.03 L1123.50 498.07 L1124.00 499.11 L1124.50 500.15 L1125.00 501.19 L1125.50 502.22 L1126.00 503.24 L1126.50 504.27 L1127.00 505.29 L1127.50 506.30 L1128.00 507.32 L1128.50 508.33 L1129.00 509.33 L1129.50 510.33 L1130.00 511.33 L1130.50 512.32 L1131.00 513.31 L1131.50 514.30 L1132.00 515.28 L1132.50 516.26 L1133.00 517.24 L1133.50 518.21 L1134.00 519.18 L1134.50 520.14 L1135.00 521.11 L1135.50 522.06 L1136.00 523.02 L1136.50 523.97 L1137.00 524.92 L1137.50 525.86 L1138.00 526.80 L1138.50 527.74 L1139.00 528.67 L1139.50 529.60 L1140.00 530.52 L1140.50 531.45 L1141.00 532.37 L1141.50 533.28 L1142.00 534.19 L1142.50 535.10 L1143.00 536.01 L1143.50 536.91 L1144.00 537.81 L1144.50 538.70 L1145.00 539.59 L1145.50 540.48 L1146.00 541.36 L1146.50 542.24 L1147.00 543.12 L1147.50 543.99 L1148.00 544.86 L1148.50 545.73 L1149.00 546.60 L1149.50 547.46 L1150.00 548.31 L1150.50 549.17 L1151.00 550.02 L1151.50 550.86 L1152.00 551.71 L1152.50 552.55 L1153.00 553.38 L1153.50 554.22 L1154.00 555.05 L1154.50 555.87 L1155.00 556.70 L1155.50 557.52 L1156.00 558.33 L1156.50 559.15 L1157.00 559.96 L1157.50 560.77 L1158.00 561.57 L1158.50 562.37 L1159.00 563.17 L1159.50 563.96 L1160.00 564.75 L1160.50 565.54 L1161.00 566.32 L1161.50 567.11 L1162.00 567.88 L1162.50 568.66 L1163.00 569.43 L1163.50 570.20 L1164.00 570.96 L1164.50 571.72 L1165.00 572.48 L1165.50 573.24 L1166.00 573.99 L1166.50 574.74 L1167.00 575.49 L1167.50 576.23 L1168.00 576.97 L1168.50 577.71 L1169.00 578.44 L1169.50 579.17 L1170.00 579.90 L1170.50 580.62 L1171.00 581.35 L1171.50 582.06 L1172.00 582.78 L1172.50 583.49 L1173.00 584.20 L1173.50 584.91 L1174.00 585.61 L1174.50 586.31 L1175.00 587.01 L1175.50 587.70 L1176.00 588.39 L1176.50 589.08 L1177.00 589.76 L1177.50 590.45 L1178.00 591.13 L1178.50 591.80 L1179.00 592.47 L1179.50 593.14 L1180.00 593.81 L1180.50 594.48 L1181.00 595.14 L1181.50 595.80 L1182.00 596.45 L1182.50 597.10 L1183.00 597.75 L1183.50 598.40 L1184.00 599.04 L1184.50 599.69 L1185.00 600.32 L1185.50 600.96 L1186.00 601.59 L1186.50 602.22 L1187.00 602.85 L1187.50 603.47 L1188.00 604.09 L1188.50 604.71 L1189.00 605.32 L1189.50 605.94 L1190.00 606.55 L1190.50 607.15 L1191.00 607.76 L1191.50 608.36 L1192.00 608.96 L1192.50 609.55 L1193.00 610.15 L1193.50 610.74 L1194.00 611.32 L1194.50 611.91 L1195.00 612.49 L1195.50 613.07 L1196.00 613.65 L1196.50 614.22 L1197.00 614.79 L1197.50 615.36 L1198.00 615.93 L1198.50 616.49 L1199.00 617.05 L1199.50 617.61 L1200.00 618.16 L1200.50 618.71 L1201.00 619.26 L1201.50 619.81 L1202.00 620.36 L1202.50 620.90 L1203.00 621.44 L1203.50 621.98 L1204.00 622.51 L1204.50 623.04 L1205.00 623.57 L1205.50 624.10 L1206.00 624.62 L1206.50 625.15 L1207.00 625.67 L1207.50 626.18 L1208.00 626.70 L1208.50 627.21 L1209.00 627.72 L1209.50 628.23 L1210.00 628.73 L1210.50 629.24 L1211.00 629.74 L1211.50 630.23 L1212.00 630.73 L1212.50 631.22 L1213.00 631.72 L1213.50 632.20 L1214.00 632.69 L1214.50 633.17 L1215.00 633.66 L1215.50 634.14 L1216.00 634.61 L1216.50 635.09 L1217.00 635.56 L1217.50 636.03 L1218.00 636.50 L1218.50 636.97 L1219.00 637.43 L1219.50 637.89 L1220.00 638.35 L1220.50 638.81 L1221.00 639.27 L1221.50 639.72 L1222.00 640.17 L1222.50 640.62 L1223.00 641.07 L1223.50 641.51 L1224.00 641.96 L1224.50 642.40 L1225.00 642.84 L1225.50 643.28 L1226.00 643.71 L1226.50 644.14 L1227.00 644.57 L1227.50 645.00 L1228.00 645.43 L1228.50 645.86 L1229.00 646.28 L1229.50 646.70 L1230.00 647.12 L1230.50 647.54 L1231.00 647.95 L1231.50 648.37 L1232.00 648.78 L1232.50 649.19 L1233.00 649.60 L1233.50 650.00 L1234.00 650.41 L1234.50 650.81 L1235.00 651.21 L1235.50 651.61 L1236.00 652.01 L1236.50 652.40 L1237.00 652.80 L1237.50 653.19 L1238.00 653.58 L1238.50 653.97 L1239.00 654.36 L1239.50 654.74 L1240.00 655.12 L1240.50 655.51 L1241.00 655.89 L1241.50 656.27 L1242.00 656.64 L1242.50 657.02 L1243.00 657.39 L1243.50 657.76 L1244.00 658.13 L1244.50 658.50 L1245.00 658.87 L1245.50 659.24 L1246.00 659.60 L1246.50 659.96 L1247.00 660.33 L1247.50 660.69 L1248.00 661.04 L1248.50 661.40 L1249.00 661.76 L1249.50 662.11 L1250.00 662.46 L1250.50 662.81 L1251.00 663.16 L1251.50 663.51 L1252.00 663.86 L1252.50 664.20 L1253.00 664.55 L1253.50 664.89 L1254.00 665.23 L1254.50 665.57 L1255.00 665.91 L1255.50 666.25 L1256.00 666.59 L1256.50 666.92 L1257.00 667.25 L1257.50 667.59 L1258.00 667.92 L1258.50 668.25 L1259.00 668.58 L1259.50 668.90 L1260.00 669.23 L1260.50 669.56 L1261.00 669.88 L1261.50 670.20 L1262.00 670.52 L1262.50 670.84 L1263.00 671.16 L1263.50 671.48 L1264.00 671.80 L1264.50 672.11 L1265.00 672.43 L1265.50 672.74 L1266.00 673.06 L1266.50 673.37 L1267.00 673.68 L1267.50 673.99 L1268.00 674.30 L1268.50 674.60 L1269.00 674.91 L1269.50 675.22 L1270.00 675.52 L1270.50 675.82 L1271.00 676.13 L1271.50 676.43 L1272.00 676.73 L1272.50 677.03 L1273.00 677.33 L1273.50 677.62 L1274.00 677.92 L1274.50 678.21 L1275.00 678.51 L1275.50 678.80 L1276.00 679.09 L1276.50 679.38 L1277.00 679.67 L1277.50 679.95 L1278.00 680.24 L1278.50 680.52 L1279.00 680.80 L1279.50 681.08 L1280.00 681.36 L1280.50 681.64 L1281.00 681.91 L1281.50 682.18 L1282.00 682.45 L1282.50 682.72 L1283.00 682.99 L1283.50 683.25 L1284.00 683.52 L1284.50 683.78 L1285.00 684.04 L1285.50 684.29 L1286.00 684.55 L1286.50 684.80 L1287.00 685.05 L1287.50 685.30 L1288.00 685.54 L1288.50 685.79 L1289.00 686.03 L1289.50 686.27 L1290.00 686.50 L1290.50 686.73 L1291.00 686.96 L1291.50 687.19 L1292.00 687.42 L1292.50 687.64 L1293.00 687.86 L1293.50 688.08 L1294.00 688.29 L1294.50 688.50 L1295.00 688.71 L1295.50 688.92 L1296.00 689.12 L1296.50 689.32 L1297.00 689.52 L1297.50 689.71 L1298.00 689.90 L1298.50 690.09 L1299.00 690.27 L1299.50 690.45 L1300.00 690.63 L1300.50 690.80 L1301.00 690.98 L1301.50 691.14 L1302.00 691.31 L1302.50 691.47 L1303.00 691.63 L1303.50 691.78 L1304.00 691.93 L1304.50 692.07 L1305.00 692.22 L1305.50 692.36 L1306.00 692.49 L1306.50 692.62 L1307.00 692.75 L1307.50 692.87 L1308.00 692.99 L1308.50 693.11 L1309.00 693.22 L1309.50 693.33 L1310.00 693.43 L1310.50 693.53 L1311.00 693.63 L1311.50 693.72 L1312.00 693.81 L1312.50 693.89 L1313.00 693.97 L1313.50 694.04 L1314.00 694.11 L1314.50 694.18 L1315.00 694.24 L1315.50 694.29 L1316.00 694.35 L1316.50 694.39 L1317.00 694.44 L1317.50 694.47 L1318.00 694.51 L1318.50 694.54 L1319.00 694.56 L1319.50 694.58 L1320.00 694.59 L1320.50 694.60 L1321.00 694.61 L1321.50 694.61 L1322.00 694.60 L1322.50 694.59 L1323.00 694.57 L1323.50 694.55 L1324.00 694.53 L1324.50 694.49 L1324.70 694.48" fill="none" stroke="#000" stroke-width="4.3" stroke-linejoin="round"/>
<path d="M170.60 153.42 L171.57 153.43 L172.54 153.45 L173.51 153.47 L174.49 153.48 L175.46 153.50 L176.43 153.52 L177.40 153.53 L178.37 153.55 L179.34 153.57 L180.31 153.58 L181.29 153.60 L182.26 153.61 L183.23 153.63 L184.20 153.65 M204.90 153.96 L205.86 153.98 L206.82 153.99 L207.78 154.01 L208.74 154.02 L209.71 154.03 L210.67 154.05 L211.63 154.06 L212.59 154.08 L213.55 154.09 L214.51 154.10 L215.47 154.12 L216.43 154.13 L217.39 154.14 L218.36 154.16 L219.32 154.17 L220.28 154.18 L221.24 154.20 L222.20 154.21 M249.60 154.55 L250.56 154.56 L251.53 154.58 L252.49 154.59 L253.45 154.60 L254.42 154.61 L255.38 154.62 L256.35 154.63 L257.31 154.64 L258.27 154.65 L259.24 154.66 L260.20 154.68 L261.16 154.69 L262.13 154.70 L263.09 154.71 L264.05 154.72 L265.02 154.73 L265.98 154.74 L266.95 154.75 L267.91 154.76 L268.87 154.77 L269.84 154.78 L270.80 154.79 M297.90 155.06 L298.87 155.07 L299.84 155.08 L300.80 155.09 L301.77 155.10 L302.74 155.11 L303.71 155.12 L304.68 155.13 L305.65 155.14 L306.61 155.15 L307.58 155.15 L308.55 155.16 L309.52 155.17 L310.49 155.18 L311.45 155.19 L312.42 155.20 L313.39 155.21 L314.36 155.21 L315.33 155.22 L316.30 155.23 L317.26 155.24 L318.23 155.25 L319.20 155.26 M347.10 155.49 L348.07 155.50 L349.05 155.50 L350.02 155.51 L350.99 155.52 L351.97 155.53 L352.94 155.54 L353.91 155.54 L354.89 155.55 L355.86 155.56 L356.83 155.57 L357.81 155.57 L358.78 155.58 L359.75 155.59 L360.73 155.60 L361.70 155.60 L362.67 155.61 L363.65 155.62 L364.62 155.63 L365.59 155.63 L366.57 155.64 L367.54 155.65 L368.51 155.66 L369.49 155.66 L370.46 155.67 L371.43 155.68 L372.41 155.68 L373.38 155.69 L374.35 155.70 L375.33 155.71 L376.30 155.71 M403.80 155.92 L404.76 155.92 L405.72 155.93 L406.68 155.94 L407.64 155.94 L408.59 155.95 L409.55 155.96 L410.51 155.96 L411.47 155.97 L412.43 155.98 L413.39 155.98 L414.35 155.99 L415.31 156.00 L416.26 156.01 L417.22 156.01 L418.18 156.02 L419.14 156.03 L420.10 156.03 M440.90 156.19 L441.86 156.19 L442.83 156.20 L443.79 156.21 L444.75 156.21 L445.72 156.22 L446.68 156.23 L447.64 156.24 L448.61 156.24 L449.57 156.25 L450.53 156.26 L451.49 156.26 L452.46 156.27 L453.42 156.28 L454.38 156.29 L455.35 156.29 L456.31 156.30 L457.27 156.31 L458.24 156.32 L459.20 156.32 M483.10 156.51 L484.07 156.52 L485.05 156.53 L486.02 156.54 L486.99 156.54 L487.96 156.55 L488.94 156.56 L489.91 156.57 L490.88 156.58 L491.85 156.58 L492.83 156.59 L493.80 156.60 L494.77 156.61 L495.75 156.62 L496.72 156.63 L497.69 156.63 L498.66 156.64 L499.64 156.65 L500.61 156.66 L501.58 156.67 L502.55 156.68 L503.53 156.68 L504.50 156.69 M530.20 156.93 L531.17 156.94 L532.15 156.95 L533.12 156.96 L534.10 156.97 L535.07 156.98 L536.05 156.99 L537.03 157.00 L538.00 157.01 L538.98 157.02 L539.95 157.03 L540.93 157.04 L541.90 157.05 L542.88 157.06 L543.85 157.07 L544.83 157.08 L545.80 157.09 L546.78 157.10 L547.75 157.11 L548.73 157.12 L549.70 157.13 L550.68 157.14 L551.65 157.15 L552.63 157.16 L553.60 157.17 L554.58 157.18 L555.55 157.19 L556.53 157.20 L557.50 157.21 L558.48 157.23 L559.45 157.24 L560.43 157.25 L561.40 157.26 L562.38 157.27 L563.35 157.28 L564.33 157.29 L565.30 157.31 M586.80 157.61 L587.80 157.63 L588.79 157.64 L589.79 157.66 L590.78 157.68 L591.78 157.69 L592.77 157.71 L593.77 157.73 L594.76 157.75 L595.76 157.77 L596.75 157.79 L597.75 157.81 L598.74 157.82 L599.74 157.84 L600.73 157.87 L601.73 157.89 L602.72 157.91 L603.72 157.93 L604.71 157.95 L605.71 157.97 L606.71 157.99 L607.70 158.02 M627.40 158.55 L628.36 158.58 L629.33 158.61 L630.29 158.64 L631.26 158.67 L632.22 158.70 L633.19 158.73 L634.15 158.77 L635.12 158.80 L636.08 158.83 L637.05 158.87 L638.01 158.90 L638.98 158.94 L639.94 158.98 L640.91 159.01 L641.87 159.05 L642.84 159.09 L643.80 159.12 M672.20 160.49 L673.17 160.55 L674.15 160.61 L675.12 160.67 L676.10 160.72 L677.08 160.78 L678.05 160.84 L679.03 160.90 L680.00 160.97 L680.98 161.03 L681.95 161.09 L682.93 161.15 L683.90 161.22 L684.88 161.28 L685.85 161.35 L686.83 161.42 L687.80 161.48 M708.99 163.14 L709.93 163.22 L710.87 163.30 L711.81 163.39 L712.75 163.47 L713.69 163.56 L714.63 163.64 L715.56 163.73 L716.50 163.81 L717.44 163.90 L718.38 163.99 L719.32 164.07 L720.25 164.16 L721.19 164.25 L722.13 164.34 L723.07 164.43 L724.01 164.52 M731.29 165.21 L732.25 165.30 L733.21 165.39 L734.17 165.48 L735.14 165.57 L736.10 165.66 L737.06 165.75 L738.02 165.84 L738.98 165.93 L739.94 166.02 L740.90 166.10 L741.86 166.19 L742.82 166.28 L743.78 166.36 L744.75 166.45 L745.71 166.53 M766.70 168.22 L767.65 168.29 L768.60 168.35 L769.56 168.42 L770.51 168.49 L771.46 168.56 L772.42 168.62 L773.37 168.69 L774.33 168.75 L775.28 168.82 L776.23 168.88 L777.19 168.95 L778.14 169.01 L779.10 169.07 L780.05 169.13 L781.00 169.19 M804.70 170.58 L805.68 170.63 L806.66 170.69 L807.64 170.74 L808.62 170.79 L809.60 170.84 L810.58 170.89 L811.56 170.94 L812.54 170.99 L813.52 171.04 L814.50 171.09 L815.48 171.14 L816.46 171.19 L817.44 171.24 L818.42 171.29 L819.40 171.34 L820.38 171.39 L821.36 171.43 L822.34 171.48 L823.32 171.53 L824.30 171.58 M846.50 172.62 L847.49 172.67 L848.47 172.71 L849.46 172.76 L850.45 172.80 L851.43 172.85 L852.42 172.89 L853.41 172.94 L854.39 172.99 L855.38 173.03 L856.37 173.08 L857.35 173.12 L858.34 173.17 L859.33 173.22 L860.31 173.26 L861.30 173.31 M883.70 174.41 L884.64 174.45 L885.57 174.50 L886.51 174.55 L887.45 174.60 L888.39 174.65 L889.33 174.70 L890.26 174.75 L891.20 174.80 L892.14 174.85 L893.08 174.90 L894.01 174.96 L894.95 175.01 L895.89 175.06 L896.83 175.11 L897.77 175.16 L898.70 175.22 M918.60 176.44 L919.56 176.50 L920.52 176.56 L921.47 176.63 L922.43 176.69 L923.39 176.76 L924.35 176.82 L925.31 176.89 L926.27 176.95 L927.23 177.02 L928.19 177.09 L929.15 177.15 L930.11 177.22 L931.07 177.29 L932.03 177.36 L932.99 177.43 L933.95 177.49 L934.90 177.56 M954.69 179.10 L955.67 179.18 L956.65 179.26 L957.63 179.34 L958.61 179.42 L959.59 179.50 L960.57 179.59 L961.55 179.67 L962.52 179.75 L963.50 179.84 L964.48 179.92 L965.46 180.01 L966.44 180.09 L967.42 180.18 L968.39 180.26 L969.37 180.35 L970.35 180.44 L971.33 180.53 L972.31 180.61 M994.69 182.99 L995.63 183.12 L996.57 183.25 L997.51 183.39 L998.45 183.53 L999.40 183.67 L1000.34 183.82 L1001.28 183.97 L1002.22 184.12 L1003.15 184.28 L1004.09 184.44 L1005.03 184.61 L1005.96 184.79 L1006.90 184.96 L1007.83 185.14 M1029.69 191.24 L1030.62 191.60 L1031.55 191.96 L1032.47 192.34 L1033.39 192.72 L1034.31 193.11 L1035.22 193.51 L1036.13 193.92 L1037.04 194.34 L1037.94 194.77 L1038.84 195.20 L1039.73 195.64 L1040.62 196.09 L1041.50 196.55 M1061.23 209.67 L1062.00 210.28 L1062.75 210.90 L1063.51 211.53 L1064.26 212.16 L1065.01 212.79 L1065.75 213.43 L1066.49 214.07 L1067.23 214.72 L1067.96 215.37 L1068.69 216.02 L1069.42 216.68 L1070.14 217.34 L1070.86 218.01 M1087.12 234.87 L1087.76 235.60 L1088.39 236.33 L1089.02 237.06 L1089.65 237.80 L1090.28 238.53 L1090.90 239.27 L1091.52 240.01 L1092.14 240.76 L1092.75 241.50 L1093.37 242.25 L1093.98 243.00 L1094.59 243.75 L1095.19 244.50 L1095.80 245.25 L1096.40 246.01 L1097.00 246.76 L1097.60 247.52 L1098.19 248.28 L1098.79 249.04 L1099.38 249.81 L1099.97 250.57 L1100.56 251.34 L1101.14 252.11 L1101.72 252.88 L1102.31 253.65 L1102.89 254.42 M1115.55 272.30 L1116.10 273.11 L1116.64 273.92 L1117.18 274.73 L1117.73 275.54 L1118.26 276.35 L1118.80 277.16 L1119.34 277.97 L1119.88 278.79 L1120.41 279.60 L1120.94 280.42 L1121.47 281.23 M1131.99 297.88 L1132.51 298.72 L1133.02 299.56 L1133.54 300.40 L1134.05 301.24 L1134.56 302.08 L1135.07 302.92 L1135.58 303.76 L1136.09 304.60 L1136.60 305.44 L1137.11 306.29 L1137.61 307.13 L1138.12 307.97 L1138.62 308.82 L1139.13 309.66 M1149.95 328.13 L1150.43 328.96 L1150.90 329.80 L1151.38 330.63 L1151.85 331.46 L1152.33 332.29 L1152.80 333.12 L1153.28 333.96 L1153.75 334.79 L1154.22 335.62 L1154.69 336.46 L1155.17 337.29 M1165.22 355.39 L1165.69 356.26 L1166.16 357.12 L1166.64 357.99 L1167.11 358.86 L1167.58 359.73 L1168.05 360.59 L1168.52 361.46 L1168.99 362.33 L1169.46 363.20 L1169.93 364.07 L1170.40 364.94 L1170.86 365.81 L1171.33 366.68 L1171.80 367.55 M1180.49 383.98 L1180.93 384.82 L1181.37 385.66 L1181.81 386.51 L1182.25 387.35 L1182.69 388.20 L1183.13 389.04 L1183.57 389.89 L1184.00 390.74 L1184.44 391.58 L1184.88 392.43 L1185.32 393.27 L1185.75 394.12 L1186.19 394.97 L1186.62 395.81 M1196.56 415.39 L1197.00 416.26 L1197.44 417.13 L1197.87 418.00 L1198.31 418.87 L1198.74 419.74 L1199.18 420.62 L1199.61 421.49 L1200.04 422.36 L1200.48 423.23 L1200.91 424.10 L1201.34 424.98 M1211.74 446.17 L1212.17 447.06 L1212.61 447.95 L1213.04 448.84 L1213.47 449.74 L1213.90 450.63 L1214.33 451.52 L1214.76 452.41 L1215.19 453.30 L1215.62 454.20 L1216.05 455.09 L1216.48 455.98 L1216.91 456.87 L1217.34 457.77 L1217.77 458.66 M1227.12 478.37 L1227.52 479.22 L1227.92 480.06 L1228.32 480.91 L1228.71 481.75 L1229.11 482.60 L1229.51 483.45 L1229.90 484.29 L1230.30 485.14 L1230.70 485.99 L1231.09 486.83 L1231.49 487.68 L1231.88 488.53 L1232.28 489.38 L1232.67 490.22 M1241.20 508.67 L1241.59 509.53 L1241.99 510.39 L1242.38 511.25 L1242.78 512.12 L1243.17 512.98 L1243.56 513.84 L1243.96 514.70 L1244.35 515.56 L1244.74 516.42 L1245.14 517.28 L1245.53 518.15 L1245.92 519.01 L1246.31 519.87 L1246.71 520.73 L1247.10 521.59 M1255.40 539.99 L1255.79 540.88 L1256.19 541.76 L1256.58 542.64 L1256.98 543.53 L1257.37 544.41 L1257.77 545.30 L1258.16 546.18 L1258.56 547.07 L1258.95 547.95 L1259.35 548.83 L1259.74 549.72 L1260.13 550.60 L1260.53 551.49 L1260.92 552.37 L1261.31 553.26 L1261.71 554.14 L1262.10 555.03 L1262.49 555.92 L1262.88 556.80 L1263.28 557.69 L1263.67 558.57 L1264.06 559.46 L1264.45 560.34 L1264.84 561.23 L1265.23 562.12 L1265.62 563.00 L1266.01 563.89 M1274.88 584.11 L1275.26 584.99 L1275.65 585.87 L1276.03 586.75 L1276.42 587.63 L1276.80 588.52 L1277.19 589.40 L1277.57 590.28 L1277.95 591.16 L1278.34 592.04 L1278.72 592.92 L1279.10 593.80 L1279.49 594.68 L1279.87 595.57 L1280.25 596.45 L1280.64 597.33 L1281.02 598.21 M1288.78 616.04 L1289.16 616.93 L1289.55 617.81 L1289.93 618.70 L1290.32 619.58 L1290.70 620.46 L1291.09 621.35 L1291.47 622.23 L1291.86 623.12 L1292.25 624.00 L1292.63 624.88 L1293.02 625.77 L1293.40 626.65 L1293.79 627.54 L1294.17 628.42 L1294.56 629.31 L1294.95 630.19 L1295.33 631.07 L1295.72 631.96 M1303.59 649.87 L1303.97 650.74 L1304.36 651.62 L1304.75 652.49 L1305.13 653.36 L1305.52 654.24 L1305.91 655.11 L1306.30 655.99 L1306.68 656.86 L1307.07 657.73 L1307.46 658.61 L1307.85 659.48 L1308.24 660.35 L1308.63 661.23 L1309.02 662.10 L1309.41 662.97 M1318.61 683.35 L1318.99 684.19 L1319.38 685.04 L1319.77 685.88 L1320.16 686.73 L1320.54 687.57 L1320.93 688.42 L1321.32 689.26 L1321.71 690.11 L1322.10 690.95 L1322.49 691.80 L1322.88 692.64" fill="none" stroke="#f00" stroke-width="4.8" stroke-linecap="round" stroke-linejoin="round"/>
<line x1="158.7" y1="750.4" x2="167.9" y2="750.4" stroke="#f00" stroke-width="3.2"/>
<line x1="149" y1="704.53" x2="167.9" y2="704.53" stroke="#f00" stroke-width="3.2"/>
<line x1="158.7" y1="658.65" x2="167.9" y2="658.65" stroke="#f00" stroke-width="3.2"/>
<line x1="149" y1="612.78" x2="167.9" y2="612.78" stroke="#f00" stroke-width="3.2"/>
<line x1="158.7" y1="566.91" x2="167.9" y2="566.91" stroke="#f00" stroke-width="3.2"/>
<line x1="149" y1="521.03" x2="167.9" y2="521.03" stroke="#f00" stroke-width="3.2"/>
<line x1="158.7" y1="475.16" x2="167.9" y2="475.16" stroke="#f00" stroke-width="3.2"/>
<line x1="149" y1="429.29" x2="167.9" y2="429.29" stroke="#f00" stroke-width="3.2"/>
<line x1="158.7" y1="383.41" x2="167.9" y2="383.41" stroke="#f00" stroke-width="3.2"/>
<line x1="149" y1="337.54" x2="167.9" y2="337.54" stroke="#f00" stroke-width="3.2"/>
<line x1="158.7" y1="291.67" x2="167.9" y2="291.67" stroke="#f00" stroke-width="3.2"/>
<line x1="149" y1="245.79" x2="167.9" y2="245.79" stroke="#f00" stroke-width="3.2"/>
<line x1="158.7" y1="199.92" x2="167.9" y2="199.92" stroke="#f00" stroke-width="3.2"/>
<line x1="149" y1="154.05" x2="167.9" y2="154.05" stroke="#f00" stroke-width="3.2"/>
<line x1="158.7" y1="108.17" x2="167.9" y2="108.17" stroke="#f00" stroke-width="3.2"/>
<line x1="149" y1="62.3" x2="167.9" y2="62.3" stroke="#f00" stroke-width="3.2"/>
<line x1="1353.8" y1="62.3" x2="1363" y2="62.3" stroke="#000" stroke-width="3.2"/>
<line x1="1353.8" y1="98.52" x2="1372.7" y2="98.52" stroke="#000" stroke-width="3.2"/>
<line x1="1353.8" y1="134.73" x2="1363" y2="134.73" stroke="#000" stroke-width="3.2"/>
<line x1="1353.8" y1="170.95" x2="1372.7" y2="170.95" stroke="#000" stroke-width="3.2"/>
<line x1="1353.8" y1="207.16" x2="1363" y2="207.16" stroke="#000" stroke-width="3.2"/>
<line x1="1353.8" y1="243.38" x2="1372.7" y2="243.38" stroke="#000" stroke-width="3.2"/>
<line x1="1353.8" y1="279.59" x2="1363" y2="279.59" stroke="#000" stroke-width="3.2"/>
<line x1="1353.8" y1="315.81" x2="1372.7" y2="315.81" stroke="#000" stroke-width="3.2"/>
<line x1="1353.8" y1="352.03" x2="1363" y2="352.03" stroke="#000" stroke-width="3.2"/>
<line x1="1353.8" y1="388.24" x2="1372.7" y2="388.24" stroke="#000" stroke-width="3.2"/>
<line x1="1353.8" y1="424.46" x2="1363" y2="424.46" stroke="#000" stroke-width="3.2"/>
<line x1="1353.8" y1="460.67" x2="1372.7" y2="460.67" stroke="#000" stroke-width="3.2"/>
<line x1="1353.8" y1="496.89" x2="1363" y2="496.89" stroke="#000" stroke-width="3.2"/>
<line x1="1353.8" y1="533.11" x2="1372.7" y2="533.11" stroke="#000" stroke-width="3.2"/>
<line x1="1353.8" y1="569.32" x2="1363" y2="569.32" stroke="#000" stroke-width="3.2"/>
<line x1="1353.8" y1="605.54" x2="1372.7" y2="605.54" stroke="#000" stroke-width="3.2"/>
<line x1="1353.8" y1="641.75" x2="1363" y2="641.75" stroke="#000" stroke-width="3.2"/>
<line x1="1353.8" y1="677.97" x2="1372.7" y2="677.97" stroke="#000" stroke-width="3.2"/>
<line x1="1353.8" y1="714.18" x2="1363" y2="714.18" stroke="#000" stroke-width="3.2"/>
<line x1="1353.8" y1="750.4" x2="1372.7" y2="750.4" stroke="#000" stroke-width="3.2"/>
<line x1="225.75" y1="750.4" x2="225.75" y2="764" stroke="#000" stroke-width="3.5"/>
<line x1="225.75" y1="62.3" x2="225.75" y2="75.8" stroke="#000" stroke-width="3.5"/>
<line x1="370.37" y1="750.4" x2="370.37" y2="757" stroke="#000" stroke-width="3.5"/>
<line x1="370.37" y1="62.3" x2="370.37" y2="68.8" stroke="#000" stroke-width="3.5"/>
<line x1="514.99" y1="750.4" x2="514.99" y2="764" stroke="#000" stroke-width="3.5"/>
<line x1="514.99" y1="62.3" x2="514.99" y2="75.8" stroke="#000" stroke-width="3.5"/>
<line x1="659.61" y1="750.4" x2="659.61" y2="757" stroke="#000" stroke-width="3.5"/>
<line x1="659.61" y1="62.3" x2="659.61" y2="68.8" stroke="#000" stroke-width="3.5"/>
<line x1="804.24" y1="750.4" x2="804.24" y2="764" stroke="#000" stroke-width="3.5"/>
<line x1="804.24" y1="62.3" x2="804.24" y2="75.8" stroke="#000" stroke-width="3.5"/>
<line x1="948.86" y1="750.4" x2="948.86" y2="757" stroke="#000" stroke-width="3.5"/>
<line x1="948.86" y1="62.3" x2="948.86" y2="68.8" stroke="#000" stroke-width="3.5"/>
<line x1="1093.48" y1="750.4" x2="1093.48" y2="764" stroke="#000" stroke-width="3.5"/>
<line x1="1093.48" y1="62.3" x2="1093.48" y2="75.8" stroke="#000" stroke-width="3.5"/>
<line x1="1238.1" y1="750.4" x2="1238.1" y2="757" stroke="#000" stroke-width="3.5"/>
<line x1="1238.1" y1="62.3" x2="1238.1" y2="68.8" stroke="#000" stroke-width="3.5"/>
<line x1="166.15" y1="750.4" x2="1355.55" y2="750.4" stroke="#000" stroke-width="3.2"/>
<line x1="1353.8" y1="60.7" x2="1353.8" y2="752" stroke="#000" stroke-width="3.5"/>
<line x1="167.9" y1="60.7" x2="167.9" y2="752.6" stroke="#f00" stroke-width="3.5"/>
<line x1="166.15" y1="62.3" x2="1355.55" y2="62.3" stroke="#000" stroke-width="3.2"/>
<text transform="translate(91.46 713) scale(1.3600 1)" font-size="29.87" font-weight="normal" fill="#f00" stroke="#f00" stroke-width="0.25">88</text>
<text transform="translate(91.46 621.25) scale(1.3600 1)" font-size="29.87" font-weight="normal" fill="#f00" stroke="#f00" stroke-width="0.25">90</text>
<text transform="translate(91.87 529.51) scale(1.3600 1)" font-size="29.87" font-weight="normal" fill="#f00" stroke="#f00" stroke-width="0.25">92</text>
<text transform="translate(91.06 437.76) scale(1.3600 1)" font-size="29.87" font-weight="normal" fill="#f00" stroke="#f00" stroke-width="0.25">94</text>
<text transform="translate(91.46 346.02) scale(1.3600 1)" font-size="29.87" font-weight="normal" fill="#f00" stroke="#f00" stroke-width="0.25">96</text>
<text transform="translate(91.46 254.27) scale(1.3600 1)" font-size="29.87" font-weight="normal" fill="#f00" stroke="#f00" stroke-width="0.25">98</text>
<text transform="translate(68.71 162.52) scale(1.3600 1)" font-size="29.87" font-weight="normal" fill="#f00" stroke="#f00" stroke-width="0.25">100</text>
<text transform="translate(69.12 70.77) scale(1.3600 1)" font-size="29.87" font-weight="normal" fill="#f00" stroke="#f00" stroke-width="0.25">102</text>
<text transform="translate(1385.35 106.99) scale(1.3600 1)" font-size="29.87" font-weight="normal" fill="#000" stroke="#000" stroke-width="0.25">0.1</text>
<text transform="translate(1385.35 179.42) scale(1.3600 1)" font-size="29.87" font-weight="normal" fill="#000" stroke="#000" stroke-width="0.25">0.0</text>
<text transform="translate(1385.65 251.85) scale(1.3600 1)" font-size="29.87" font-weight="normal" fill="#000" stroke="#000" stroke-width="0.25">-0.1</text>
<text transform="translate(1385.65 324.29) scale(1.3600 1)" font-size="29.87" font-weight="normal" fill="#000" stroke="#000" stroke-width="0.25">-0.2</text>
<text transform="translate(1385.65 396.72) scale(1.3600 1)" font-size="29.87" font-weight="normal" fill="#000" stroke="#000" stroke-width="0.25">-0.3</text>
<text transform="translate(1385.65 469.15) scale(1.3600 1)" font-size="29.87" font-weight="normal" fill="#000" stroke="#000" stroke-width="0.25">-0.4</text>
<text transform="translate(1385.65 541.58) scale(1.3600 1)" font-size="29.87" font-weight="normal" fill="#000" stroke="#000" stroke-width="0.25">-0.5</text>
<text transform="translate(1385.65 614.01) scale(1.3600 1)" font-size="29.87" font-weight="normal" fill="#000" stroke="#000" stroke-width="0.25">-0.6</text>
<text transform="translate(1385.65 686.44) scale(1.3600 1)" font-size="29.87" font-weight="normal" fill="#000" stroke="#000" stroke-width="0.25">-0.7</text>
<text transform="translate(1385.65 758.88) scale(1.3600 1)" font-size="29.87" font-weight="normal" fill="#000" stroke="#000" stroke-width="0.25">-0.8</text>
<text transform="translate(191.38 795.67) scale(1.3600 1)" font-size="29.87" font-weight="normal" fill="#000" stroke="#000" stroke-width="0.25">200</text>
<text transform="translate(481.23 795.67) scale(1.3600 1)" font-size="29.87" font-weight="normal" fill="#000" stroke="#000" stroke-width="0.25">400</text>
<text transform="translate(769.86 795.67) scale(1.3600 1)" font-size="29.87" font-weight="normal" fill="#000" stroke="#000" stroke-width="0.25">600</text>
<text transform="translate(1059.31 795.67) scale(1.3600 1)" font-size="29.87" font-weight="normal" fill="#000" stroke="#000" stroke-width="0.25">800</text>
<text transform="translate(559.87 854.67) scale(1.3398 1)" font-size="36.99" font-weight="bold" fill="#000" stroke="#000" stroke-width="0.25">Temperature (°C)</text>
<text transform="translate(36.72 476.23) scale(1.4549 1) rotate(-90)" font-size="35.5" font-weight="bold" fill="#f00" stroke="#f00" stroke-width="0.25">TGA (%)</text>
<text transform="translate(1510.32 519.08) scale(1.4240 1) rotate(-90)" font-size="35.77" font-weight="bold" fill="#000" stroke="#000" stroke-width="0.25">DTA (mg/min)</text>
<rect x="969.4" y="1.2" width="153.2" height="61.1" fill="#fff" stroke="#000" stroke-width="1.6"/>
<path d="M974.4 16.9 L993.8 16.9 M1022.4 16.9 L1042.4 16.9" stroke="#f00" stroke-width="4.4" stroke-linecap="round"/>
<path d="M974.4 45 L1044 45" stroke="#000" stroke-width="4.5" stroke-linecap="round"/>
<text transform="translate(1053.54 24.57) scale(1.3762 1)" font-size="22.89" font-weight="normal" fill="#000" stroke="#000" stroke-width="0.25">TGA</text>
<text transform="translate(1053.68 52.58) scale(1.3619 1)" font-size="22.89" font-weight="normal" fill="#000" stroke="#000" stroke-width="0.25">DTA</text>
<line x1="662.5" y1="158" x2="1222.4" y2="158" stroke="#00f" stroke-width="2" stroke-dasharray="7.4 2.4 2.4 2.4" stroke-dashoffset="2.60"/>
<line x1="977" y1="179.4" x2="1249" y2="179.4" stroke="#00f" stroke-width="2" stroke-dasharray="7.4 2.4 2.4 2.4" stroke-dashoffset="1.40"/>
<line x1="1022.2" y1="695.2" x2="1350.7" y2="695.2" stroke="#00f" stroke-width="2" stroke-dasharray="7.4 2.4 2.4 2.4"/>
<line x1="569" y1="116.9" x2="646" y2="151" stroke="#00f" stroke-width="1.8"/>
<path d="M641.3 155.2 L648.5 146.2 L669.2 161.4 Z" fill="#00f"/>
<line x1="831.4" y1="123.5" x2="958" y2="173" stroke="#00f" stroke-width="1.8"/>
<path d="M953.1 176.6 L959.8 168.0 L977.5 180.0 Z" fill="#00f"/>
<line x1="1222.6" y1="159" x2="1222.6" y2="172" stroke="#00f" stroke-width="1.6"/>
<path d="M1218 170.2 L1227 170.2 L1222.4 180.8 Z" fill="#00f"/>
<line x1="1084.2" y1="179.4" x2="1084.2" y2="684" stroke="#00f" stroke-width="1.8"/>
<path d="M1077.4 681.9 L1090.6 681.9 L1083.9 700.9 Z" fill="#00f"/>
<line x1="1121" y1="720.6" x2="1314" y2="698.3" stroke="#000" stroke-width="1.5"/>
<path d="M1310.7 693.6 L1312.2 703.6 L1338.1 695.4 Z" fill="#000"/>
<text transform="translate(493.75 106.88) scale(1.3325 1)" font-size="23.62" font-weight="bold" fill="#000" stroke="#000" stroke-width="0.25">T=495.54 °C</text>
<text transform="translate(726.95 118.88) scale(1.3012 1)" font-size="24.2" font-weight="bold" fill="#000" stroke="#000" stroke-width="0.25">Tonset= 724 °C</text>
<text transform="translate(1248.18 174.78) scale(1.3613 1)" font-size="19.99" font-weight="bold" fill="#000" stroke="#000" stroke-width="0.25">0.46%</text>
<text transform="translate(1099.44 423.88) scale(1.3512 1)" font-size="20.13" font-weight="bold" fill="#000" stroke="#000" stroke-width="0.25">11.26%</text>
<text transform="translate(991.98 736.77) scale(1.3820 1)" font-size="19.69" font-weight="bold" fill="#000" stroke="#000" stroke-width="0.25">957 °C</text>
</svg>
</body></html>
